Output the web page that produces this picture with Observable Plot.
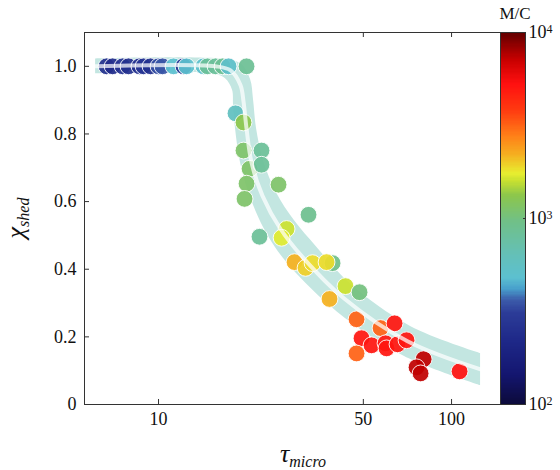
<!DOCTYPE html>
<html><head><meta charset="utf-8">
<script src="https://cdn.jsdelivr.net/npm/d3@7"></script>
<script src="https://cdn.jsdelivr.net/npm/@observablehq/plot@0.6"></script>
<style>
body{margin:0;background:#fff;}
#wrap{position:relative;width:560px;height:470px;}
#wrap svg{position:absolute;left:0;top:0;}
</style></head><body><div id="wrap"></div>
<script>
// ---- data ----
const tau = [6.65,6.97,7.54,7.90,8.61,8.89,9.39,10.0,10.32,11.25,12.17,12.46,14.24,14.70,15.65,16.54,17.34,19.97,
  18.31,19.50,19.50,22.46,20.45,22.46,19.97,25.68,19.66,32.5,22.11,27.35,26.30,
  29.12,31.75,33.55,39.26,37.45,43.46,48.53,38.33,47.40,57.24,63.9,49.29,53.33,59.52,60.0,65.4,70.2,47.40,80.3,75.96,78.4,106.5];
const chi = [1,1,1,1,1,1,1,1,1,1,1,1,1,1,1,1,1,1,
  0.861,0.834,0.751,0.751,0.697,0.709,0.653,0.650,0.608,0.561,0.496,0.519,0.493,
  0.421,0.404,0.418,0.418,0.421,0.350,0.332,0.312,0.252,0.226,0.240,0.196,0.175,0.181,0.166,0.178,0.190,0.151,0.134,0.110,0.092,0.098];
const mc = [250,240,270,250,255,280,255,340,350,479,260,490,500,830,820,850,520,860,
  575,1320,1130,830,1130,830,1130,1130,1130,900,830,1600,1700,
  2190,1950,1860,950,1860,1600,1000,2190,3160,3160,5000,5000,5000,5000,5000,5000,5000,3160,7240,7240,7240,5200];

// guide curve (centre) and its shaded band (inner and outer edges)
const curveTau = [6.1,15.65,17.61,19.05,19.50,19.97,20.77,22.64,26.08,31.01,42.8,70.75,125.6];
const curveChi = [1.0,1.0,0.988,0.944,0.896,0.816,0.715,0.617,0.519,0.436,0.315,0.187,0.104];
const innerTau = [6.1,15.29,16.93,17.89,18.03,18.31,19.05,20.61,23.73,28.21,40.82,69.1,125.6];
const innerChi = [0.978,0.978,0.963,0.929,0.884,0.816,0.715,0.611,0.497,0.407,0.273,0.142,0.056];
const outerTau = [6.1,16.03,19.05,20.61,21.09,21.6,22.82,25.27,29.12,34.62,45.22,72.46,125.6];
const outerChi = [1.022,1.022,1.008,0.961,0.902,0.816,0.721,0.626,0.543,0.466,0.356,0.231,0.151];

const xTicks = [10, 50, 100];
const yTicks = [0, 0.2, 0.4, 0.6, 0.8, 1.0];
const cbTicks = [100, 1000, 10000];

// colour map (position 0..1 along the log colour bar)
const cmapStops  = [0, 0.08, 0.17, 0.245, 0.28, 0.31, 0.34, 0.40, 0.49, 0.56, 0.60, 0.62, 0.67, 0.72, 0.79, 0.86, 0.925, 1];
const cmapColors = ["#0c0a3a","#141670","#1e2888","#2c3c98","#3c5caa","#48a0cc","#5cc0d0","#64c0b8","#70c088","#8cc64c","#c8e030","#e8ee30","#f5b020","#ff8018","#ff3a10","#ff1010","#c80000","#600000"];

// ---- build tables ----
const points = tau.map((t, i) => ({tau: t, chi: chi[i], mc: mc[i]}));
const curve = curveTau.map((t, i) => ({tau: t, chi: curveChi[i]}));
const band = innerTau.map((t, i) => ({ix: t, iy: innerChi[i], ox: outerTau[i], oy: outerChi[i]}));

const cm = d3.scaleLinear().domain(cmapStops).range(cmapColors).interpolate(d3.interpolateRgb).clamp(true);
const colorScale = {type: "log", domain: [100, 10000], interpolate: t => cm(t)};

const FONT = "'Liberation Serif', 'DejaVu Serif', serif";
const W = 560, H = 470, ML = 84, MR = 60, MT = 32, MB = 66;
const YMAX = 1.1, TICK = 0.0148;

const main = Plot.plot({
  width: W, height: H,
  marginLeft: ML, marginRight: MR, marginTop: MT, marginBottom: MB,
  style: {fontFamily: FONT, fontSize: "18px", color: "#111", background: "transparent"},
  x: {type: "log", domain: [5.59, 146.9], axis: null},
  y: {domain: [0, YMAX]},
  color: colorScale,
  marks: [
    Plot.area(band, {x1: "ix", y1: "iy", x2: "ox", y2: "oy", fill: "#c3e6e1", curve: "catmull-rom"}),
    Plot.dot(points, {x: "tau", y: "chi", fill: "mc", r: 8.4, stroke: "white", strokeWidth: 0.9, fillOpacity: 0.93}),
    Plot.line(curve, {x: "tau", y: "chi", stroke: "white", strokeWidth: 4, strokeOpacity: 0.72, curve: "catmull-rom"}),
    Plot.frame({stroke: "#333", strokeWidth: 1}),
    // x ticks (inward, bottom and top) and labels
    Plot.ruleX(xTicks, {x: d => d, y1: 0, y2: TICK, stroke: "#333"}),
    Plot.ruleX(xTicks, {x: d => d, y1: YMAX - TICK, y2: YMAX, stroke: "#333"}),
    Plot.text(xTicks, {x: d => d, frameAnchor: "bottom", lineAnchor: "top", dy: 8, text: d => String(d), fontSize: 18, fill: "#111"}),
    Plot.axisY(yTicks, {anchor: "left", tickSize: -5, tickPadding: 13, fontSize: 18, tickFormat: d => d === 0 ? "0" : d.toFixed(1), label: null, stroke: "#333"})
  ]
});

// colour bar strips
const N = 300;
const strips = d3.range(N).map(i => {
  const a = Math.pow(10, 2 + 2 * i / N), b = Math.pow(10, 2 + 2 * (i + 1) / N);
  return {a, b, m: Math.sqrt(a * b)};
});

const cbar = Plot.plot({
  width: W, height: H,
  marginLeft: 500, marginRight: 35, marginTop: MT, marginBottom: MB,
  style: {fontFamily: FONT, fontSize: "18px", color: "#111", background: "transparent"},
  x: {domain: [0, 1], axis: null},
  y: {type: "log", domain: [100, 10000], axis: null},
  color: colorScale,
  marks: [
    Plot.rect(strips, {y1: "a", y2: "b", fill: "m", shapeRendering: "crispEdges"}),
    Plot.frame({stroke: "#333", strokeWidth: 1}),
    Plot.axisY(cbTicks, {anchor: "right", tickSize: -3, tickPadding: 6, fontSize: 18, tickFormat: d => String(Math.round(Math.log10(d))), label: null, stroke: "#333"})
  ]
});

const wrap = document.getElementById("wrap");
wrap.appendChild(main);
wrap.appendChild(cbar);

// superscript exponents on colour bar labels
d3.select(cbar).selectAll('g[aria-label="y-axis tick label"] text').each(function() {
  const e = this.textContent;
  const t = d3.select(this);
  t.text("").attr("text-anchor", "start");
  t.append("tspan").text("10");
  t.append("tspan").attr("dy", "-0.45em").attr("font-size", "12px").text(e);
});

// axis titles with subscripts
const ms = d3.select(main);
const ty = ms.append("text").attr("transform", "translate(24,218) rotate(-90)")
  .attr("text-anchor", "middle").attr("font-family", FONT).attr("font-style", "italic").attr("fill", "#111");
ty.append("tspan").attr("font-size", "26px").text("χ");
ty.append("tspan").attr("font-size", "16px").attr("dy", "5").text("shed");

const tx = ms.append("text").attr("x", 303).attr("y", 462)
  .attr("text-anchor", "middle").attr("font-family", FONT).attr("font-style", "italic").attr("fill", "#111");
tx.append("tspan").attr("font-size", "26px").text("τ");
tx.append("tspan").attr("font-size", "16px").attr("dy", "5").text("micro");

// colour bar title
d3.select(cbar).append("text").attr("x", 515).attr("y", 19).attr("text-anchor", "middle")
  .attr("font-family", FONT).attr("font-size", "17px").attr("fill", "#111").text("M/C");
</script>
</body></html>
